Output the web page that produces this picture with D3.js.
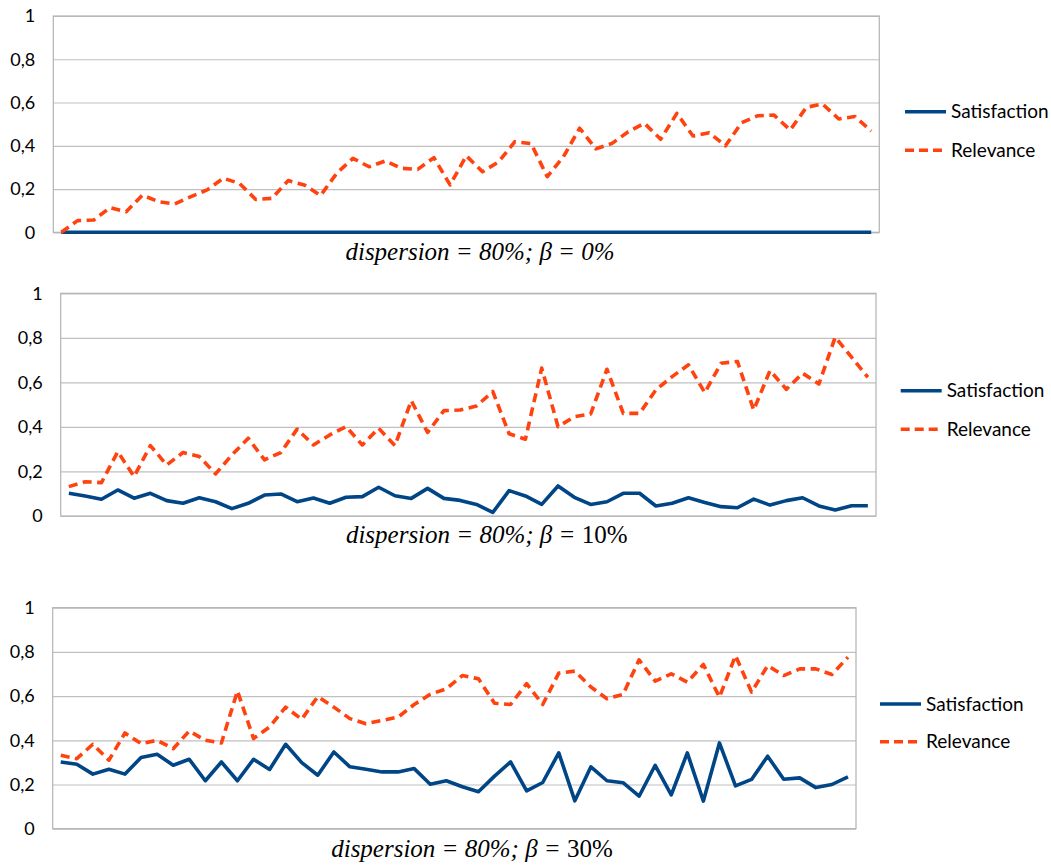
<!DOCTYPE html>
<html>
<head>
<meta charset="utf-8">
<script src="https://cdn.jsdelivr.net/npm/d3@7"></script>
<style>
  body { margin: 0; background: #fff; }
  svg { display: block; }
  .tick text { font-family: Lato, "Open Sans", sans-serif; font-size: 18px; fill: #000; }
  .legend text { font-family: Lato, "Open Sans", sans-serif; font-size: 19px; fill: #000; }
  .caption { font-family: "Liberation Serif", "DejaVu Serif", serif; font-size: 25px; fill: #000; }
</style>
</head>
<body>
<div id="chart"></div>
<script>
// values
const yTicks = [0, 0.2, 0.4, 0.6, 0.8, 1];
const seriesNames = ["Satisfaction", "Relevance"];
const captionText = "dispersion = 80%; \u03b2 = ";
const captionBetas = ["0%", "10%", "30%"];

const satisfaction0 = [0, 0, 0, 0, 0, 0, 0, 0, 0, 0, 0, 0, 0, 0, 0, 0, 0, 0, 0, 0, 0, 0, 0, 0, 0, 0,
  0, 0, 0, 0, 0, 0, 0, 0, 0, 0, 0, 0, 0, 0, 0, 0, 0, 0, 0, 0, 0, 0, 0, 0, 0];
const relevance0 = [0.0, 0.054, 0.057, 0.114, 0.095, 0.172, 0.141, 0.131, 0.165, 0.196,
  0.25, 0.226, 0.152, 0.157, 0.239, 0.219, 0.17, 0.273, 0.342, 0.303,
  0.33, 0.296, 0.291, 0.345, 0.219, 0.354, 0.28, 0.326, 0.419, 0.41,
  0.257, 0.35, 0.481, 0.386, 0.411, 0.465, 0.504, 0.43, 0.55, 0.445,
  0.46, 0.4, 0.507, 0.539, 0.542, 0.473, 0.578, 0.593, 0.524, 0.535, 0.468];

const satisfaction10 = [0.102, 0.09, 0.075, 0.117, 0.08, 0.102, 0.069, 0.057, 0.082, 0.064,
  0.033, 0.057, 0.094, 0.099, 0.064, 0.081, 0.057, 0.084, 0.087, 0.129,
  0.091, 0.079, 0.124, 0.079, 0.07, 0.052, 0.016, 0.114, 0.09, 0.052,
  0.135, 0.084, 0.052, 0.064, 0.102, 0.102, 0.045, 0.057, 0.082, 0.061,
  0.042, 0.037, 0.076, 0.049, 0.069, 0.082, 0.045, 0.027, 0.046, 0.046];
const relevance10 = [0.132, 0.154, 0.15, 0.289, 0.177, 0.316, 0.229, 0.285, 0.267, 0.189,
  0.274, 0.349, 0.252, 0.285, 0.39, 0.319, 0.364, 0.401, 0.319, 0.394,
  0.316, 0.518, 0.375, 0.473, 0.476, 0.494, 0.559, 0.369, 0.345, 0.664,
  0.401, 0.446, 0.458, 0.659, 0.461, 0.461, 0.566, 0.626, 0.679, 0.554,
  0.686, 0.694, 0.476, 0.653, 0.569, 0.641, 0.593, 0.803, 0.713, 0.623];

const satisfaction30 = [0.302, 0.292, 0.247, 0.269, 0.247, 0.322, 0.337, 0.287, 0.314, 0.217,
  0.302, 0.217, 0.314, 0.268, 0.382, 0.299, 0.242, 0.347, 0.28, 0.269,
  0.257, 0.257, 0.272, 0.201, 0.217, 0.19, 0.167, 0.238, 0.302, 0.171,
  0.209, 0.343, 0.126, 0.28, 0.217, 0.208, 0.147, 0.287, 0.153, 0.343,
  0.125, 0.388, 0.194, 0.223, 0.328, 0.224, 0.23, 0.186, 0.2, 0.235];
const relevance30 = [0.332, 0.317, 0.382, 0.31, 0.433, 0.385, 0.4, 0.362, 0.442, 0.4,
  0.388, 0.623, 0.408, 0.46, 0.55, 0.495, 0.598, 0.55, 0.498, 0.475,
  0.49, 0.505, 0.562, 0.608, 0.633, 0.693, 0.678, 0.568, 0.562, 0.656,
  0.562, 0.704, 0.713, 0.641, 0.588, 0.608, 0.764, 0.668, 0.701, 0.663,
  0.743, 0.595, 0.783, 0.618, 0.738, 0.693, 0.723, 0.723, 0.698, 0.776];

const colors = ["#004586", "#ff420e"];
const dash = "9,5.5";

// layout of the three panels
const panels = [
  { sat: satisfaction0, rel: relevance0, left: 53.3, right: 879.3, top: 16, bottom: 232.3,
    legX: 905, legY: 111.7, legGap: 38.5, capX: 480, capY: 260, betaItalic: true },
  { sat: satisfaction10, rel: relevance10, left: 60.7, right: 876, top: 293.3, bottom: 516,
    legX: 900.7, legY: 390.7, legGap: 38.6, capX: 486.7, capY: 543.3, betaItalic: false },
  { sat: satisfaction30, rel: relevance30, left: 52.7, right: 856, top: 607.7, bottom: 828.7,
    legX: 880, legY: 704, legGap: 37.7, capX: 472, capY: 856.7, betaItalic: false }
];

const svg = d3.select("#chart").append("svg")
  .attr("width", 1051)
  .attr("height", 865);

panels.forEach(function (p, pi) {
  const w = p.right - p.left;
  const h = p.bottom - p.top;
  const g = svg.append("g").attr("transform", `translate(${p.left},${p.top})`);

  const x = d3.scaleBand()
    .domain(d3.range(p.rel.length))
    .range([0, w]);

  const y = d3.scaleLinear().domain([0, 1]).range([h, 0]);

  // gridlines + tick labels
  g.append("g")
    .call(d3.axisLeft(y)
      .tickValues(yTicks)
      .tickSize(-w)
      .tickPadding(18)
      .tickFormat(d => d3.format("~g")(d).replace(".", ",")))
    .call(a => a.select(".domain").remove())
    .call(a => a.selectAll(".tick line").attr("stroke", "#c0c0c0").attr("stroke-width", 1.2));

  // plot box
  g.append("rect")
    .attr("width", w)
    .attr("height", h)
    .attr("fill", "none")
    .attr("stroke", "#b3b3b3")
    .attr("stroke-width", 1.2);

  const line = d3.line()
    .x((d, i) => x(i) + x.bandwidth() / 2)
    .y(d => y(d));

  g.append("path")
    .datum(p.sat)
    .attr("fill", "none")
    .attr("stroke", colors[0])
    .attr("stroke-width", 3.6)
    .attr("stroke-linejoin", "round")
    .attr("d", line);

  g.append("path")
    .datum(p.rel)
    .attr("fill", "none")
    .attr("stroke", colors[1])
    .attr("stroke-width", 3.6)
    .attr("stroke-dasharray", dash)
    .attr("stroke-linejoin", "round")
    .attr("d", line);

  // legend
  const leg = svg.append("g").attr("class", "legend");
  seriesNames.forEach(function (name, i) {
    const ly = p.legY + i * p.legGap;
    leg.append("line")
      .attr("x1", p.legX).attr("x2", p.legX + 41)
      .attr("y1", ly).attr("y2", ly)
      .attr("stroke", colors[i])
      .attr("stroke-width", 3.4)
      .attr("stroke-dasharray", i === 1 ? "9,5" : null);
    leg.append("text")
      .attr("x", p.legX + 46)
      .attr("y", ly)
      .attr("dy", "0.35em")
      .text(name);
  });

  // caption
  const cap = svg.append("text")
    .attr("class", "caption")
    .attr("x", p.capX)
    .attr("y", p.capY)
    .attr("text-anchor", "middle");
  cap.append("tspan").attr("font-style", "italic").text(captionText);
  cap.append("tspan")
    .attr("font-style", p.betaItalic ? "italic" : "normal")
    .text(captionBetas[pi]);
});
</script>
</body>
</html>
